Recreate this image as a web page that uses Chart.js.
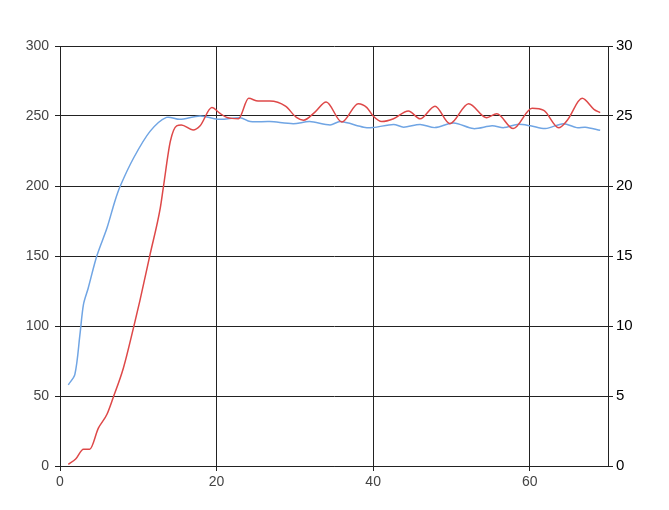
<!DOCTYPE html>
<html>
<head>
<meta charset="utf-8">
<script src="https://cdn.jsdelivr.net/npm/chart.js@4"></script>
<style>
  html, body { margin: 0; padding: 0; background: #fff; }
  #wrap { width: 669px; height: 510px; }
</style>
</head>
<body>
<div id="wrap"><canvas id="c" width="669" height="510"></canvas></div>
<script>
const xTicks = [0, 20, 40, 60];
const leftTicks = [0, 50, 100, 150, 200, 250, 300];
const rightTicks = [0, 5, 10, 15, 20, 25, 30];

const redX = [1.06, 2.0, 3.0, 3.8, 4.9, 6.0, 6.8, 8.1, 9.4, 10.2, 11.5, 12.8, 13.2, 14.1, 14.9, 15.5, 17.0, 17.9, 19.4, 20.4, 21.3, 22.8, 24.1, 25.3, 26.8, 28.8, 30.2, 31.1, 32.6, 34.0, 36.0, 38.1, 39.2, 40.0, 41.1, 42.6, 44.5, 46.0, 47.9, 49.8, 52.2, 54.5, 55.8, 57.9, 60.3, 61.8, 63.7, 64.8, 66.7, 68.2, 69.0];
const redY = [1.2, 5, 12, 12, 27, 37, 49, 70, 99, 118, 151, 184, 199, 232, 243, 243.6, 240, 243, 256, 252, 249, 248, 262.6, 260.7, 260.7, 257, 249, 247, 253, 260, 245.7, 258.8, 256, 250, 246, 248, 253.6, 248, 257, 244.5, 258.8, 248.8, 251.6, 241, 255.5, 254, 241.6, 247, 262.6, 254.8, 252.4];

const blueX = [1.06, 1.9, 2.55, 3.0, 3.6, 4.7, 6.0, 7.0, 7.7, 9.4, 11.5, 13.6, 15.3, 17.9, 20.4, 23.0, 24.3, 26.8, 29.8, 31.9, 34.5, 35.8, 38.8, 40.0, 42.6, 43.9, 46.0, 47.9, 50.3, 52.8, 55.2, 56.7, 58.4, 60.1, 62.0, 64.3, 66.0, 67.1, 69.0];
const blueY = [5.8, 6.55, 9.4, 11.55, 12.7, 15.0, 17.0, 18.9, 20.0, 22.0, 23.9, 24.9, 24.76, 25.0, 24.76, 24.88, 24.6, 24.6, 24.45, 24.6, 24.36, 24.6, 24.2, 24.17, 24.4, 24.2, 24.4, 24.17, 24.5, 24.1, 24.3, 24.17, 24.4, 24.3, 24.1, 24.45, 24.17, 24.2, 23.98];

const toPts = (xs, ys) => xs.map((x, i) => ({ x: x, y: ys[i] }));

new Chart(document.getElementById('c'), {
  type: 'scatter',
  data: {
    datasets: [
      {
        data: toPts(redX, redY),
        yAxisID: 'yL',
        showLine: true,
        borderColor: 'rgb(222, 72, 72)',
        borderWidth: 1.5,
        pointRadius: 0,
        cubicInterpolationMode: 'monotone'
      },
      {
        data: toPts(blueX, blueY),
        yAxisID: 'yR',
        showLine: true,
        borderColor: 'rgb(112, 165, 228)',
        borderWidth: 1.5,
        pointRadius: 0,
        tension: 0.3
      }
    ]
  },
  options: {
    responsive: false,
    animation: false,
    layout: { padding: { top: 46, left: 0, right: 0, bottom: 0 } },
    plugins: { legend: { display: false }, tooltip: { enabled: false } },
    scales: {
      x: {
        type: 'linear',
        min: 0, max: 70,
        afterBuildTicks: (s) => { s.ticks = xTicks.map(v => ({ value: v })); },
        afterFit: (s) => { s.height = 44; },
        grid: { color: '#222', lineWidth: 1, tickLength: 5 },
        border: { color: '#222', width: 1 },
        ticks: { color: '#444', font: { family: 'Liberation Sans, Arial, sans-serif', size: 14 }, padding: 3, maxRotation: 0 }
      },
      yL: {
        type: 'linear',
        position: 'left',
        min: 0, max: 300,
        afterBuildTicks: (s) => { s.ticks = leftTicks.map(v => ({ value: v })); },
        afterFit: (s) => { s.width = 60; },
        grid: { color: '#222', lineWidth: 1, tickLength: 5 },
        border: { color: '#222', width: 1 },
        ticks: { color: '#444', font: { family: 'Liberation Sans, Arial, sans-serif', size: 14 }, padding: 6 }
      },
      yR: {
        type: 'linear',
        position: 'right',
        min: 0, max: 30,
        afterBuildTicks: (s) => { s.ticks = rightTicks.map(v => ({ value: v })); },
        afterFit: (s) => { s.width = 61; },
        grid: { drawOnChartArea: false, color: '#222', lineWidth: 1, tickLength: 5 },
        border: { color: '#222', width: 1 },
        ticks: { color: '#000', font: { family: 'Liberation Sans, Arial, sans-serif', size: 15 }, padding: 3 }
      }
    }
  }
});
</script>
</body>
</html>
